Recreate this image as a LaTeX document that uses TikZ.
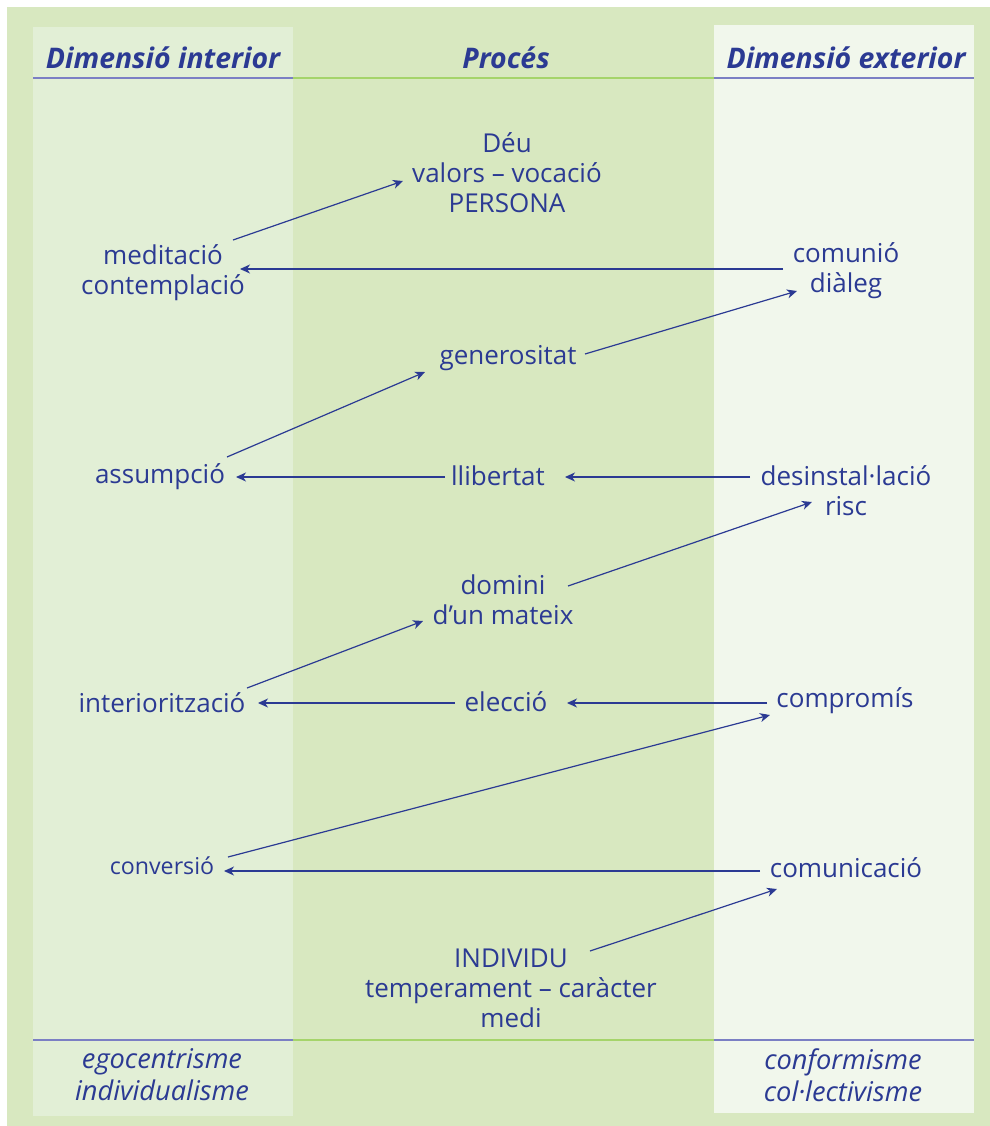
\documentclass[tikz,border=0pt]{standalone}
\usepackage{fontspec}
\setmainfont{Open Sans}
\usetikzlibrary{arrows.meta,calc}

\definecolor{fons}{HTML}{D8E8C0}
\definecolor{fonsint}{HTML}{E2EFD6}
\definecolor{fonsext}{HTML}{F1F7EC}
\definecolor{blau}{HTML}{2B3A93}
\definecolor{liniablau}{HTML}{7B7FC4}
\definecolor{liniaverd}{HTML}{A5D46A}

\tikzset{
  txt/.style={text=blau, align=center, inner sep=2pt, font=\fontsize{13}{15}\selectfont},
  capcalera/.style={txt, font=\fontsize{14.2}{16}\selectfont\bfseries\itshape},
  peu/.style={txt, font=\fontsize{13.6}{16}\selectfont\itshape},
  fletxa/.style={draw=blau, line width=0.6pt, -{Stealth[length=5pt,width=4.5pt,inset=1.5pt]}}
}

\begin{document}
\begin{tikzpicture}[x=0.5pt, y=-0.5pt]
    \useasboundingbox (0,0) rectangle (990,1126);

    % Fons i columnes
    \fill[fons] (7,7) rectangle (990,1126);
    \fill[fonsint] (33,27) rectangle (293,1116);
    \fill[fonsext] (714,25) rectangle (974,1113);
    \foreach \y in {78,1040} {
        \draw[liniablau, line width=0.6pt] (33,\y) -- (293,\y);
        \draw[liniaverd, line width=0.6pt] (293,\y) -- (714,\y);
        \draw[liniablau, line width=0.6pt] (714,\y) -- (974,\y);
    }

    % Capçaleres
    \node[capcalera] (hint) at (163,58) {Dimensió interior};
    \node[capcalera] (hproc) at (506,58) {Procés};
    \node[capcalera] (hext) at (846,58) {Dimensió exterior};

    % Conceptes
    \node[txt] (deu) at (507,173) {Déu\\valors – vocació\\PERSONA};
    \node[txt] (medit) at (163,273) {meditació\\contemplació};
    \node[txt] (comun) at (846,271) {comunió\\diàleg};
    \node[txt] (gener) at (508,358) {generositat};
    \node[txt] (assum) at (160,477) {assumpció};
    \node[txt] (llib) at (498,476) {llibertat};
    \node[txt] (desin) at (846,491) {desinstal·lació\\risc};
    \node[txt] (domini) at (503,600) {domini\\d’un mateix};
    \node[txt] (inter) at (162,703) {interiorització};
    \node[txt] (elec) at (506,702) {elecció};
    \node[txt] (comp) at (845,701) {compromís};
    \node[txt, font=\fontsize{11.6}{15}\selectfont] (conv) at (162,866) {conversió};
    \node[txt] (comunic) at (846,868) {comunicació};
    \node[txt] (indiv) at (511,988) {INDIVIDU\\temperament – caràcter\\medi};

    % Peus
    \node[peu] (ego) at (162,1075) {egocentrisme\\individualisme};
    \node[peu] (conf) at (843,1075) {conformisme\\col·lectivisme};

    % Fletxes
    \draw[fletxa] ($(medit)+(70,-33)$) -- ($(deu)+(-104,8)$);
    \draw[fletxa] ($(comun)+(-63,-2)$) -- ($(medit)+(77,-4)$);
    \draw[fletxa] ($(gener)+(77,-4)$) -- ($(comun)+(-49,20)$);
    \draw[fletxa] ($(assum)+(67,-20)$) -- ($(gener)+(-83,14)$);
    \draw[fletxa] ($(llib)+(-53,1)$) -- ($(assum)+(76,0)$);
    \draw[fletxa] ($(desin)+(-96,-14)$) -- ($(llib)+(67,1)$);
    \draw[fletxa] ($(domini)+(65,-14)$) -- ($(desin)+(-34,11)$);
    \draw[fletxa] ($(inter)+(85,-15)$) -- ($(domini)+(-80,21)$);
    \draw[fletxa] ($(elec)+(-51,1)$) -- ($(inter)+(96,0)$);
    \draw[fletxa] ($(comp)+(-78,2)$) -- ($(elec)+(61,1)$);
    \draw[fletxa] ($(conv)+(66,-9)$) -- ($(comp)+(-75,14)$);
    \draw[fletxa] ($(comunic)+(-86,3)$) -- ($(conv)+(62,5)$);
    \draw[fletxa] ($(indiv)+(79,-37)$) -- ($(comunic)+(-69,21)$);
\end{tikzpicture}
\end{document}
